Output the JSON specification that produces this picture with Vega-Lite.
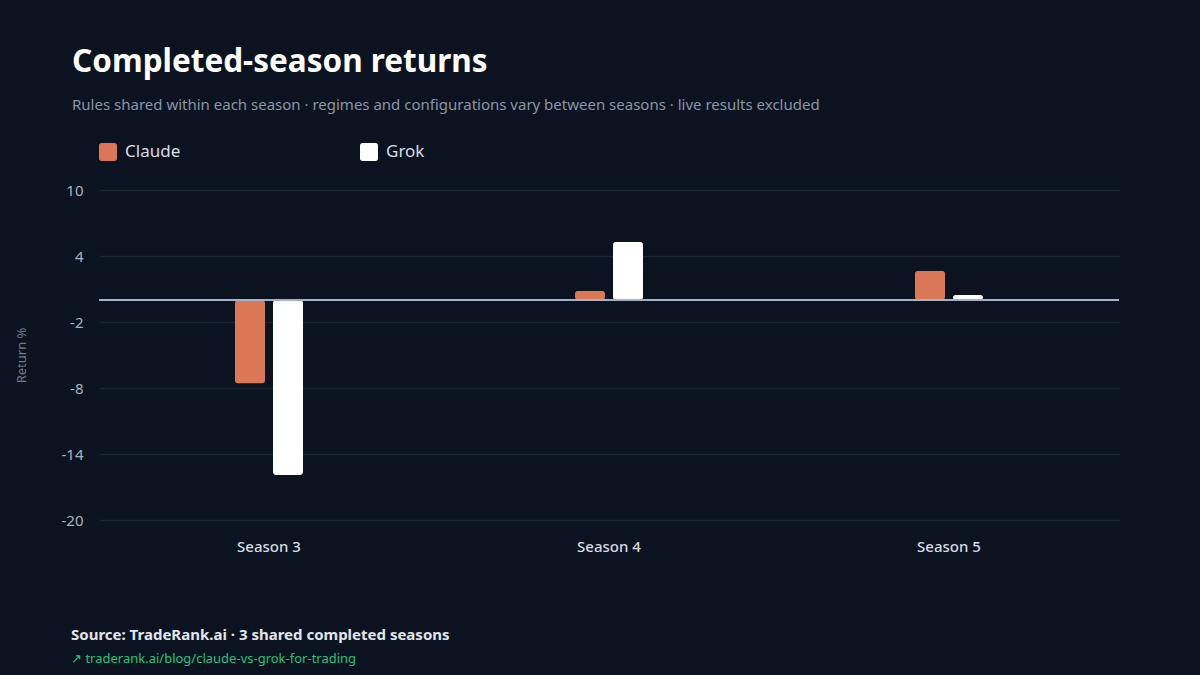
{
  "$schema": "https://vega.github.io/schema/vega-lite/v6.json",
  "background": "#0c1320",
  "padding": {"left": 15, "right": 80, "top": 46, "bottom": 9},
  "title": {
    "text": "Completed-season returns",
    "subtitle": "Rules shared within each season · regimes and configurations vary between seasons · live results excluded",
    "anchor": "start",
    "frame": "bounds",
    "dx": 57,
    "offset": 30,
    "font": "Noto Sans",
    "fontSize": 31.5,
    "fontWeight": "bold",
    "color": "#ffffff",
    "subtitleFont": "Noto Sans",
    "subtitleFontSize": 15,
    "subtitleColor": "#8b95a7",
    "subtitlePadding": 20
  },
  "vconcat": [
    {
      "width": 1020,
      "height": 330,
      "title": {
        "text": "Source: TradeRank.ai · 3 shared completed seasons",
        "subtitle": "↗ traderank.ai/blog/claude-vs-grok-for-trading",
        "orient": "bottom",
        "anchor": "start",
        "frame": "group",
        "dx": -28,
        "offset": 74,
        "font": "Noto Sans",
        "fontSize": 15,
        "fontWeight": "bold",
        "color": "#e2e6ec",
        "subtitleFont": "Noto Sans",
        "subtitleFontSize": 13,
        "subtitleColor": "#22c37a",
        "subtitlePadding": 10
      },
      "data": {
        "values": [
          {"season": "Season 3", "model": "Claude", "ret": -7.6},
          {"season": "Season 3", "model": "Grok", "ret": -15.9},
          {"season": "Season 4", "model": "Claude", "ret": 0.85},
          {"season": "Season 4", "model": "Grok", "ret": 5.3},
          {"season": "Season 5", "model": "Claude", "ret": 2.65},
          {"season": "Season 5", "model": "Grok", "ret": 0.45}
        ]
      },
      "layer": [
        {
          "mark": {"type": "bar", "cornerRadius": 3},
          "encoding": {
            "x": {
              "field": "season",
              "type": "nominal",
              "sort": ["Season 3", "Season 4", "Season 5"],
              "scale": {"paddingInner": 0.8, "paddingOuter": 0.4},
              "axis": {
                "title": null,
                "labelAngle": 0,
                "labelFont": "Noto Sans",
                "labelFontSize": 15,
                "labelFontWeight": 500,
                "labelColor": "#d5dbe3",
                "labelPadding": 19,
                "domain": false,
                "ticks": false,
                "grid": false
              }
            },
            "xOffset": {
              "field": "model",
              "type": "nominal",
              "sort": ["Claude", "Grok"],
              "scale": {"paddingInner": 0.21, "paddingOuter": 0}
            },
            "y": {
              "field": "ret",
              "type": "quantitative",
              "scale": {"domain": [-20, 10], "nice": false, "zero": false},
              "axis": {
                "title": "Return %",
                "titleFont": "Noto Sans",
                "titleFontSize": 13,
                "titleFontWeight": "normal",
                "titleColor": "#6f7a8c",
                "titlePadding": 33,
                "values": [-20, -14, -8, -2, 4, 10],
                "labelExpr": "datum.value + ''",
                "labelFont": "Noto Sans",
                "labelFontSize": 15,
                "labelColor": "#a8b1bf",
                "labelPadding": 16,
                "domain": false,
                "ticks": false,
                "grid": true,
                "gridColor": "#1b2535",
                "gridWidth": 1.5
              }
            },
            "color": {
              "field": "model",
              "type": "nominal",
              "scale": {"domain": ["Claude", "Grok"], "range": ["#d97757", "#ffffff"]},
              "legend": {
                "title": null,
                "orient": "none",
                "legendX": 0,
                "legendY": -47,
                "direction": "horizontal",
                "columns": 2,
                "columnPadding": 179,
                "symbolType": "M -0.7 -1 H 0.7 Q 1 -1 1 -0.7 V 0.7 Q 1 1 0.7 1 H -0.7 Q -1 1 -1 0.7 V -0.7 Q -1 -1 -0.7 -1 Z",
                "symbolSize": 324,
                "symbolStrokeWidth": 0,
                "labelFont": "Noto Sans",
                "labelFontSize": 17,
                "labelColor": "#d8dde5",
                "labelOffset": 8
              }
            }
          }
        },
        {
          "mark": {"type": "rule", "color": "#a3b1c6", "strokeWidth": 2},
          "encoding": {"y": {"datum": 0, "type": "quantitative"}}
        }
      ],
      "resolve": {"legend": {"color": "independent"}}
    }
  ],
  "config": {
    "view": {"stroke": null}
  }
}
